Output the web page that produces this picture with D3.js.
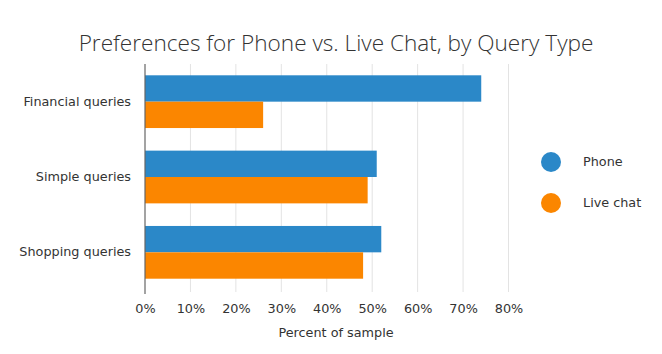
<!DOCTYPE html>
<html>
<head>
<meta charset="utf-8">
<script src="https://cdn.jsdelivr.net/npm/d3@7"></script>
<style>
  body { margin: 0; background: #fff; }
  svg { display: block; }
</style>
</head>
<body>
<div id="chart"></div>
<script>
  // query types, top to bottom
  const categories = ['Financial queries', 'Simple queries', 'Shopping queries'];
  const seriesNames = ['Phone', 'Live chat'];
  const phoneValues = [74, 51, 52];
  const chatValues = [26, 49, 48];
  const xTicks = [0, 10, 20, 30, 40, 50, 60, 70, 80];

  const colors = { Phone: '#2b88c8', 'Live chat': '#fb8600' };
  const labelFont = '"DejaVu Sans", Verdana, sans-serif';
  const labelSize = 12.8;

  const width = 662;
  const height = 354;
  const margin = { top: 64, right: 154, bottom: 64, left: 145 };

  const rows = categories.map((c, i) => ({
    category: c,
    values: [
      { series: 'Phone', value: phoneValues[i] },
      { series: 'Live chat', value: chatValues[i] }
    ]
  }));

  const svg = d3
    .select('#chart')
    .append('svg')
    .attr('width', width)
    .attr('height', height);

  const x = d3
    .scaleLinear()
    .domain([0, 80])
    .range([margin.left, width - margin.right + 0.5]);

  const y = d3
    .scaleBand()
    .domain(categories)
    .range([margin.top, height - margin.bottom])
    .paddingInner(0.3)
    .paddingOuter(0.15);

  const ySub = d3.scaleBand().domain(seriesNames).range([0, y.bandwidth()]);

  // title
  svg
    .append('text')
    .attr('x', 336)
    .attr('y', 51)
    .attr('text-anchor', 'middle')
    .attr('font-family', '"Open Sans", sans-serif')
    .attr('font-weight', 300)
    .attr('font-size', 22.6)
    .attr('fill', '#333')
    .text('Preferences for Phone vs. Live Chat, by Query Type');

  // grid
  svg
    .append('g')
    .selectAll('line')
    .data(xTicks.slice(1))
    .join('line')
    .attr('x1', (d) => x(d))
    .attr('x2', (d) => x(d))
    .attr('y1', margin.top)
    .attr('y2', height - margin.bottom + 2)
    .attr('stroke', '#e3e3e3')
    .attr('stroke-width', 1);

  // bars
  const groups = svg
    .append('g')
    .selectAll('g')
    .data(rows)
    .join('g')
    .attr('transform', (d) => `translate(0,${y(d.category)})`);

  groups
    .selectAll('rect')
    .data((d) => d.values)
    .join('rect')
    .attr('x', x(0))
    .attr('y', (d) => ySub(d.series))
    .attr('width', (d) => x(d.value) - x(0))
    .attr('height', ySub.bandwidth())
    .attr('fill', (d) => colors[d.series]);

  // x axis
  const xAxis = d3
    .axisBottom(x)
    .tickValues(xTicks)
    .tickSize(0)
    .tickPadding(14)
    .tickFormat((d) => `${d}%`);

  svg
    .append('g')
    .attr('transform', `translate(0,${height - margin.bottom})`)
    .call(xAxis)
    .call((g) => g.select('.domain').remove())
    .call((g) =>
      g
        .selectAll('.tick text')
        .attr('font-family', labelFont)
        .attr('font-size', labelSize)
        .attr('fill', '#333')
    );

  // y axis
  const yAxis = d3.axisLeft(y).tickSize(0).tickPadding(14);

  svg
    .append('g')
    .attr('transform', `translate(${margin.left},0)`)
    .call(yAxis)
    .call((g) => g.select('.domain').remove())
    .call((g) =>
      g
        .selectAll('.tick text')
        .attr('font-family', labelFont)
        .attr('font-size', labelSize)
        .attr('fill', '#333')
    );

  svg
    .append('line')
    .attr('x1', margin.left)
    .attr('x2', margin.left)
    .attr('y1', margin.top)
    .attr('y2', height - margin.bottom + 4)
    .attr('stroke', '#666')
    .attr('stroke-width', 1.2);

  // axis title
  svg
    .append('text')
    .attr('x', 336)
    .attr('y', 337)
    .attr('text-anchor', 'middle')
    .attr('font-family', labelFont)
    .attr('font-size', labelSize)
    .attr('fill', '#333')
    .text('Percent of sample');

  // legend
  const legend = svg
    .append('g')
    .selectAll('g')
    .data(seriesNames)
    .join('g')
    .attr('transform', (d, i) => `translate(551,${162 + i * 41})`);

  legend
    .append('circle')
    .attr('r', 10)
    .attr('fill', (d) => colors[d]);

  legend
    .append('text')
    .attr('x', 32)
    .attr('dy', '0.35em')
    .attr('font-family', labelFont)
    .attr('font-size', labelSize)
    .attr('fill', '#333')
    .text((d) => d);
</script>
</body>
</html>
